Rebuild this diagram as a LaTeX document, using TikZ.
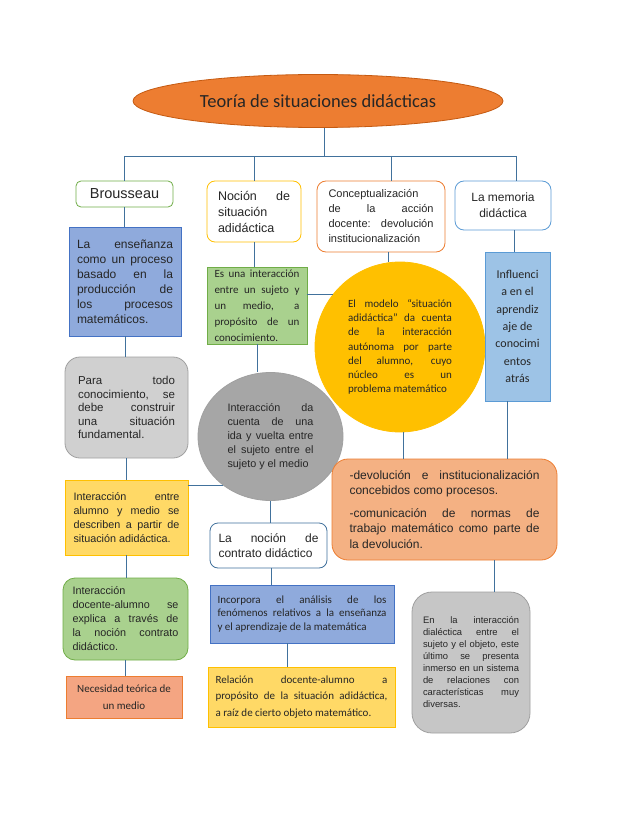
\documentclass[tikz,border=0pt]{standalone}
\usepackage{fontspec}
\setmainfont{Liberation Sans}
\newfontfamily\calibrifont{Carlito}
\usetikzlibrary{shapes.geometric}

\definecolor{lnkblue}{HTML}{41719C}
\definecolor{inkgray}{HTML}{262626}
\definecolor{titleorange}{HTML}{ED7D31}
\definecolor{titleedge}{HTML}{C55A11}
\definecolor{okgreen}{HTML}{70AD47}
\definecolor{lightgreen}{HTML}{A9D18E}
\definecolor{gold}{HTML}{FFC000}
\definecolor{lightgold}{HTML}{FFD966}
\definecolor{periwinkle}{HTML}{8FAADC}
\definecolor{darkblue}{HTML}{4472C4}
\definecolor{skyblue}{HTML}{9DC3E6}
\definecolor{midblue}{HTML}{5B9BD5}
\definecolor{salmon}{HTML}{F4B183}
\definecolor{coral}{HTML}{F4A582}
\definecolor{silver}{HTML}{D0D0D0}
\definecolor{stone}{HTML}{C6C6C6}
\definecolor{midgray}{HTML}{A6A6A6}
\definecolor{edgegray}{HTML}{A0A0A0}

\newcommand\fs[2]{\fontsize{#1}{#2}\selectfont}
\newcommand\fullpar{\parfillskip=0pt\relax}
\tolerance=10000
\hyphenpenalty=10000
\exhyphenpenalty=10000

\begin{document}
\begin{tikzpicture}[x=1pt, y=-1pt,
  every node/.style={text=inkgray, inner sep=0pt, line width=0.8pt},
  box/.style={draw, align=justify},
  lnk/.style={draw=lnkblue, line width=0.8pt}
]
  \fill[white] (0,0) rectangle (638,826);
  \useasboundingbox (0,0) rectangle (638,826);

  % title
  \node[ellipse, draw=titleedge, fill=titleorange, minimum width=370pt, minimum height=53pt,
        font=\calibrifont\fs{18.5}{22}] (T) at (318,101) {Teoría de situaciones didácticas};

  % first row
  \node[box, draw=okgreen, rounded corners=5pt, minimum width=97pt, minimum height=26pt,
        align=center, font=\fs{14.5}{16}] (B) at (124.5,194) {Brousseau};
  \node[box, draw=gold, rounded corners=8pt, minimum width=94pt, minimum height=61pt,
        text width=72pt, font=\fs{12.5}{16}] (N) at (254,211.5)
        {Noción de\linebreak situación\linebreak adidáctica};
  \node[box, draw=titleorange, rounded corners=9pt, minimum width=128pt, minimum height=71pt,
        text width=105pt, font=\fs{11}{15}] (C) at (381,216.5)
        {Conceptualización\linebreak de la acción\linebreak docente: devolución\linebreak institucionalización};
  \node[box, draw=midblue, rounded corners=9pt, minimum width=96pt, minimum height=49pt,
        align=center, font=\fs{12}{16}] (M) at (503,205.5) {La memoria\\didáctica};

  % left column
  \node[box, draw=darkblue, fill=periwinkle, minimum width=112pt, minimum height=109pt,
        text width=96pt, font=\fs{12}{15}] (E) at (125,281.5)
        {La enseñanza\linebreak como un proceso\linebreak basado en la\linebreak producción de\linebreak los procesos\linebreak matemáticos.};
  \node[box, draw=edgegray, fill=silver, rounded corners=15pt, minimum width=123pt, minimum height=101pt,
        text width=97pt, font=\fs{11.5}{13.4}] (P) at (126.5,407.5)
        {Para todo\linebreak conocimiento, se\linebreak debe construir\linebreak una situación\linebreak fundamental.};
  \node[box, draw=gold, fill=lightgold, minimum width=123pt, minimum height=75pt,
        text width=106pt, font=\fs{10.8}{14}] (IA) at (126.5,517.5)
        {Interacción entre\linebreak alumno y medio se\linebreak describen a partir de\linebreak situación adidáctica.};
  \node[box, draw=okgreen, fill=lightgreen, rounded corners=12pt, minimum width=125pt, minimum height=82pt,
        text width=106pt, font=\fs{10.8}{14}] (ID) at (125.5,619)
        {Interacción\linebreak docente-alumno se\linebreak explica a través de\linebreak la noción contrato\linebreak didáctico.};
  \node[box, draw=titleorange, fill=coral, minimum width=116pt, minimum height=42pt,
        align=center, font=\calibrifont\fs{11}{16.7}] (NM) at (124,697)
        {Necesidad teórica de\\un medio};

  % middle
  \node[box, draw=okgreen, fill=lightgreen, minimum width=100pt, minimum height=77pt,
        text width=85pt, font=\calibrifont\fs{11}{16}] (EI) at (257,305.5)
        {Es una interacción\linebreak entre un sujeto y\linebreak un medio, a\linebreak propósito de un\linebreak conocimiento.};
  \node[circle, draw=gold, fill=gold, minimum size=170pt, align=justify,
        text width=104pt, font=\calibrifont\fs{11}{14.3}] (Y) at (400,347)
        {\fullpar El modelo “situación\linebreak adidáctica” da cuenta\linebreak de la interacción\linebreak autónoma por parte\linebreak del alumno, cuyo\linebreak núcleo es un\linebreak problema matemático};
  \node[ellipse, draw=edgegray, fill=midgray, minimum width=145pt, minimum height=128pt, align=justify,
        text width=86pt, font=\fs{10.8}{14}] (G) at (270.5,436.5)
        {\fullpar Interacción da\linebreak cuenta de una\linebreak ida y vuelta entre\linebreak el sujeto entre el\linebreak sujeto y el medio};
  \node[box, draw=lnkblue, rounded corners=8pt, minimum width=117pt, minimum height=45pt,
        text width=100pt, font=\fs{12}{15}] (LN) at (268.5,545.5)
        {La noción de\linebreak contrato didáctico};
  \node[box, draw=darkblue, fill=periwinkle, minimum width=184pt, minimum height=58pt,
        text width=169pt, font=\calibrifont\fs{11}{13.5}] (IC) at (302,614)
        {\fullpar Incorpora el análisis de los\linebreak fenómenos relativos a la enseñanza\linebreak y el aprendizaje de la matemática};
  \node[box, draw=gold, fill=lightgold, minimum width=187pt, minimum height=60pt,
        text width=172pt, font=\calibrifont\fs{11}{16.5}] (R) at (301.5,697)
        {\fullpar Relación docente-alumno a\linebreak propósito de la situación adidáctica,\linebreak a raíz de cierto objeto matemático.};

  % right column
  \node[box, draw=midblue, fill=skyblue, minimum width=65pt, minimum height=149pt,
        align=center, font=\calibrifont\fs{12}{17.3}] (IN) at (517.5,326.5)
        {Influenci\\a en el\\aprendiz\\aje de\\conocimi\\entos\\atrás};
  \node[box, draw=titleorange, fill=salmon, rounded corners=16pt, minimum width=225pt, minimum height=101pt,
        text width=190pt, font=\fs{12}{15.5}] (D) at (444.5,509.5)
        {-devolución e institucionalización\linebreak concebidos como procesos.\par\vspace{7pt}
         -comunicación de normas de\linebreak trabajo matemático como parte de\linebreak la devolución.};
  \node[box, draw=edgegray, fill=stone, rounded corners=20pt, minimum width=118pt, minimum height=141pt,
        text width=96pt, font=\fs{9.4}{12}] (EL) at (471,662.5)
        {En la interacción\linebreak dialéctica entre el\linebreak sujeto y el objeto, este\linebreak último se presenta\linebreak inmerso en un sistema\linebreak de relaciones con\linebreak características muy\linebreak diversas.};

  % connectors
  \coordinate (hub) at (324,156);
  \coordinate (dC) at (391,156);
  \coordinate (dM) at (516,156);
  \draw[lnk] (hub |- T.south) -- (hub);
  \draw[lnk] (B.north |- hub) -- (dM);
  \draw[lnk] (B.north |- hub) -- (B.north);
  \draw[lnk] (N.north |- hub) -- (N.north);
  \draw[lnk] (dC) -- (dC |- C.north);
  \draw[lnk] (dM) -- (dM |- M.north);

  \draw[lnk] (B.south) -- (B.south |- E.north);
  \draw[lnk] (E.south) -- (E.south |- P.north);
  \draw[lnk] (P.south) -- (P.south |- IA.north);
  \draw[lnk] (IA.south) -- (IA.south |- ID.north);
  \draw[lnk] (ID.south) -- (ID.south |- NM.north);
  \draw[lnk] (G.226) -- (G.226 -| IA.east);

  \draw[lnk] (N.south) -- (N.south |- EI.north);
  \draw[lnk] (Y.142) -- (Y.142 -| EI.east);
  \draw[lnk] (EI.south) -- (EI.south |- G.north);
  \draw[lnk] ([xshift=7pt]C.south) -- ([xshift=7pt]C.south |- Y.north);
  \draw[lnk] ([xshift=-3pt]IN.north) -- ([xshift=-3pt]IN.north |- M.south);
  \draw[lnk] ([xshift=-10pt]IN.south) -- ([xshift=-10pt]IN.south |- D.north);
  \draw[lnk] ([xshift=3pt]Y.south) -- ([xshift=3pt]Y.south |- D.north);
  \draw[lnk] ([xshift=50pt]D.south) -- ([xshift=50pt]D.south |- EL.north);
  \draw[lnk] (G.south) -- (G.south |- LN.north);
  \draw[lnk] ([xshift=3pt]LN.south) -- ([xshift=3pt]LN.south |- IC.north);
  \draw[lnk] ([xshift=-15pt]IC.south) -- ([xshift=-15pt]IC.south |- R.north);
\end{tikzpicture}
\end{document}
